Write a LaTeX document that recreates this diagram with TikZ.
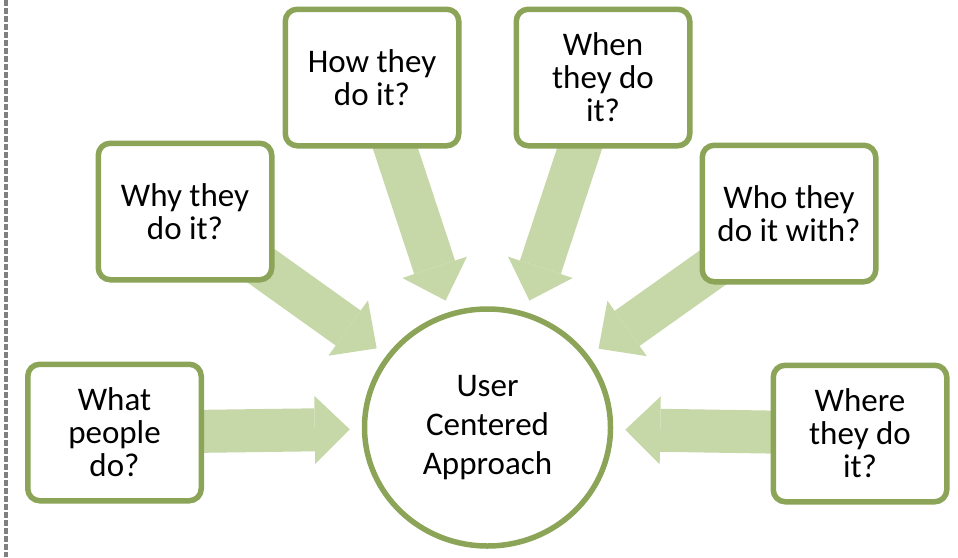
\documentclass[tikz,border=0pt]{standalone}
\usepackage{fontspec}
\setmainfont{Carlito}
\usetikzlibrary{arrows.meta,shapes.geometric,backgrounds}

\definecolor{leafline}{HTML}{8BA458}
\definecolor{leaffill}{HTML}{C6D7A8}
\definecolor{railgray}{HTML}{808080}

\begin{document}
\begin{tikzpicture}[x=1pt,y=-1pt,
    askbox/.style={draw=leafline, line width=5.5pt, fill=white, rounded corners=12pt,
      minimum width=173.5pt, minimum height=136.5pt, align=center, inner sep=2pt,
      font=\fontsize{33}{33}\selectfont},
    hub/.style={ellipse, draw=leafline, line width=5.5pt, fill=white,
      minimum width=246pt, minimum height=237pt, align=center, inner sep=2pt,
      font=\fontsize{33}{39}\selectfont},
    feed/.style={draw=leaffill, line width=43pt,
      -{Triangle[width=68pt,length=35pt,line width=0pt]}, shorten >=12pt}]
  \useasboundingbox (0,0) rectangle (958,557);

  % dashed margin line
  \draw[railgray, line width=3.5pt, dash pattern=on 6pt off 2pt] (6,0) -- (6,557);

  \node[hub] (uca) at (487.5,427.5) {User\\Centered\\Approach};

  \node[askbox] (what)  at (114.5,432.5) {What\\people\\do?};
  \node[askbox] (why)   at (185,211.5)   {Why they\\do it?};
  \node[askbox] (how)   at (372,77.5)    {How they\\do it?};
  \node[askbox] (when)  at (603,77.5)    {When\\they do\\it?};
  \node[askbox] (who)   at (789,213.5)   {Who they\\do it with?};
  \node[askbox] (where) at (860,433.5)   {Where\\they do\\it?};

  \begin{scope}[on background layer]
    \foreach \q in {what,why,how,when,who,where}
      \draw[feed] (\q.center) -- (uca);
  \end{scope}
\end{tikzpicture}
\end{document}
